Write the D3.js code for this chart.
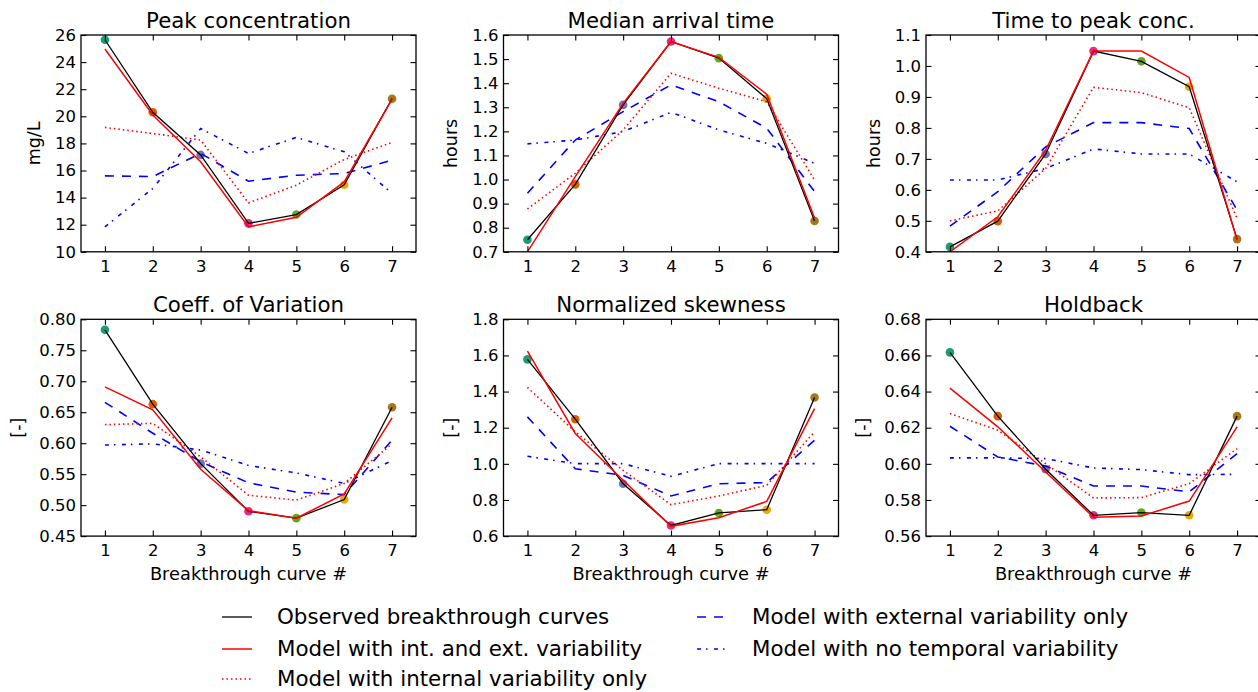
<!DOCTYPE html>
<html>
<head>
<meta charset="utf-8">
<script src="https://cdn.jsdelivr.net/npm/d3@7"></script>
<style>
  body { margin: 0; background: #fff; }
  svg { font-family: "DejaVu Sans", sans-serif; }
</style>
</head>
<body>
<svg id="chart" width="1258" height="692"></svg>
<script>
// breakthrough curve numbers
const curves = [1, 2, 3, 4, 5, 6, 7]
const markerColors = ["#1b9e77", "#d95f02", "#7570b3", "#e7298a", "#66a61e", "#e6ab02", "#a6761d"]

// Peak concentration (mg/L)
const peakObs  = [25.65, 20.3, 17.15, 12.1, 12.75, 14.95, 21.3]
const peakFull = [24.97, 20.1, 16.64, 11.84, 12.55, 15.16, 21.27]
const peakInt  = [19.18, 18.73, 18.25, 13.61, 14.92, 16.81, 18.07]
const peakExt  = [15.6, 15.55, 17.26, 15.21, 15.65, 15.78, 16.76]
const peakNone = [11.84, 14.67, 19.1, 17.26, 18.44, 17.38, 14.3]
const peakTicks = [10, 12, 14, 16, 18, 20, 22, 24, 26]

// Median arrival time (hours)
const medObs  = [0.75, 0.98, 1.31, 1.573, 1.504, 1.336, 0.828]
const medFull = [0.70, 1.012, 1.316, 1.572, 1.507, 1.354, 0.84]
const medInt  = [0.878, 1.026, 1.206, 1.441, 1.379, 1.323, 0.998]
const medExt  = [0.943, 1.164, 1.282, 1.393, 1.323, 1.213, 0.95]
const medNone = [1.148, 1.164, 1.199, 1.279, 1.206, 1.15, 1.067]
const medTicks = [0.7, 0.8, 0.9, 1.0, 1.1, 1.2, 1.3, 1.4, 1.5, 1.6]

// Time to peak concentration (hours)
const tpObs  = [0.416, 0.499, 0.716, 1.048, 1.015, 0.933, 0.441]
const tpFull = [0.40, 0.513, 0.728, 1.048, 1.048, 0.963, 0.438]
const tpInt  = [0.50, 0.532, 0.669, 0.931, 0.914, 0.865, 0.508]
const tpExt  = [0.483, 0.594, 0.739, 0.817, 0.817, 0.798, 0.535]
const tpNone = [0.632, 0.632, 0.669, 0.732, 0.716, 0.716, 0.626]
const tpTicks = [0.4, 0.5, 0.6, 0.7, 0.8, 0.9, 1.0, 1.1]

// Coefficient of variation
const cvObs  = [0.783, 0.663, 0.567, 0.490, 0.479, 0.509, 0.658]
const cvFull = [0.691, 0.654, 0.558, 0.491, 0.479, 0.518, 0.641]
const cvInt  = [0.630, 0.632, 0.578, 0.516, 0.508, 0.535, 0.599]
const cvExt  = [0.666, 0.616, 0.570, 0.536, 0.521, 0.517, 0.605]
const cvNone = [0.597, 0.599, 0.589, 0.564, 0.552, 0.535, 0.572]
const cvTicks = [0.45, 0.50, 0.55, 0.60, 0.65, 0.70, 0.75, 0.80]

// Normalized skewness
const skObs  = [1.578, 1.247, 0.890, 0.659, 0.728, 0.746, 1.367]
const skFull = [1.624, 1.168, 0.909, 0.654, 0.702, 0.792, 1.306]
const skInt  = [1.423, 1.177, 0.964, 0.774, 0.822, 0.881, 1.177]
const skExt  = [1.26, 0.973, 0.936, 0.822, 0.89, 0.896, 1.131]
const skNone = [1.042, 1.001, 1.001, 0.931, 1.001, 1.001, 1.001]
const skTicks = [0.6, 0.8, 1.0, 1.2, 1.4, 1.6, 1.8]

// Holdback
const hbObs  = [0.6617, 0.6264, 0.597, 0.5715, 0.573, 0.5715, 0.6264]
const hbFull = [0.6419, 0.6205, 0.5955, 0.5705, 0.5711, 0.5794, 0.6205]
const hbInt  = [0.6279, 0.6186, 0.6001, 0.5811, 0.5813, 0.589, 0.6084]
const hbExt  = [0.6208, 0.6038, 0.5988, 0.5877, 0.5877, 0.5845, 0.6057]
const hbNone = [0.6033, 0.6033, 0.6029, 0.5977, 0.5968, 0.594, 0.5942]
const hbTicks = [0.56, 0.58, 0.60, 0.62, 0.64, 0.66, 0.68]

const legendLabels = [
    "Observed breakthrough curves",
    "Model with int. and ext. variability",
    "Model with internal variability only",
    "Model with external variability only",
    "Model with no temporal variability"
]

// line styles: observed, full model, internal, external, none
const styles = [
    {stroke: "#000", width: 1.3, dash: null},
    {stroke: "#ff0000", width: 1.5, dash: null},
    {stroke: "#ff0000", width: 1.6, dash: "1.5,3"},
    {stroke: "#0000ff", width: 1.6, dash: "9,8"},
    {stroke: "#0000ff", width: 1.6, dash: "4,5,1.5,6.5"}
]

const panels = [
    {title: "Peak concentration", ylabel: "mg/L", series: [peakObs, peakFull, peakInt, peakExt, peakNone], ticks: peakTicks, fmt: d3.format("d")},
    {title: "Median arrival time", ylabel: "hours", series: [medObs, medFull, medInt, medExt, medNone], ticks: medTicks, fmt: d3.format(".1f")},
    {title: "Time to peak conc.", ylabel: "hours", series: [tpObs, tpFull, tpInt, tpExt, tpNone], ticks: tpTicks, fmt: d3.format(".1f")},
    {title: "Coeff. of Variation", ylabel: "[-]", series: [cvObs, cvFull, cvInt, cvExt, cvNone], ticks: cvTicks, fmt: d3.format(".2f")},
    {title: "Normalized skewness", ylabel: "[-]", series: [skObs, skFull, skInt, skExt, skNone], ticks: skTicks, fmt: d3.format(".1f")},
    {title: "Holdback", ylabel: "[-]", series: [hbObs, hbFull, hbInt, hbExt, hbNone], ticks: hbTicks, fmt: d3.format(".2f")}
]

const svg = d3.select("#chart")

const colLeft = [81, 503.5, 926]
const rowTop = [35, 319.3]
const pw = 335, ph = 216.8
const tickLen = 5.5

panels.forEach((p, i) => {
    const left = colLeft[i % 3], top = rowTop[Math.floor(i / 3)]
    const g = svg.append("g").attr("transform", `translate(${left},${top})`)

    const x = d3.scaleLinear().domain([0.5, 7.5]).range([0, pw])
    const y = d3.scaleLinear().domain(d3.extent(p.ticks)).range([ph, 0])

    g.append("clipPath").attr("id", "clip" + i)
        .append("rect").attr("width", pw).attr("height", ph)

    const plot = g.append("g").attr("clip-path", `url(#clip${i})`)

    // markers go under the lines
    plot.selectAll("circle")
        .data(p.series[0])
        .join("circle")
        .attr("cx", (d, k) => x(curves[k]))
        .attr("cy", d => y(d))
        .attr("r", 4.3)
        .attr("fill", (d, k) => markerColors[k])

    const line = d3.line().x((d, k) => x(curves[k])).y(d => y(d))

    // draw model lines first, observed and full model on top
    const order = [4, 3, 2, 0, 1]
    order.forEach(s => {
        plot.append("path")
            .attr("d", line(p.series[s]))
            .attr("fill", "none")
            .attr("stroke", styles[s].stroke)
            .attr("stroke-width", styles[s].width)
            .attr("stroke-dasharray", styles[s].dash)
    })

    // axes, ticks inward on all four sides
    const fs = 16.5
    const xb = d3.axisBottom(x).tickValues(curves).tickFormat(d3.format("d"))
        .tickSizeInner(-tickLen).tickSizeOuter(0).tickPadding(8)
    const xt = d3.axisTop(x).tickValues(curves).tickSizeInner(-tickLen).tickSizeOuter(0).tickFormat("")
    const yl = d3.axisLeft(y).tickValues(p.ticks).tickSizeInner(-tickLen).tickSizeOuter(0).tickPadding(5).tickFormat(p.fmt)
    const yr = d3.axisRight(y).tickValues(p.ticks).tickSizeInner(-tickLen).tickSizeOuter(0).tickFormat("")

    const gxb = g.append("g").attr("transform", `translate(0,${ph})`).call(xb)
    g.append("g").call(xt)
    const gyl = g.append("g").call(yl)
    g.append("g").attr("transform", `translate(${pw},0)`).call(yr)

    g.selectAll(".domain").remove()
    g.selectAll(".tick line").attr("stroke", "#000").attr("stroke-width", 1.1)
    g.selectAll(".tick text").attr("font-size", fs).attr("fill", "#000")
        .attr("font-family", "DejaVu Sans")
    gxb.selectAll(".tick text").attr("dy", null).attr("y", 20)

    g.append("rect")
        .attr("width", pw).attr("height", ph)
        .attr("fill", "none").attr("stroke", "#000").attr("stroke-width", 1.3)

    // title
    g.append("text")
        .attr("x", pw / 2).attr("y", -7)
        .attr("text-anchor", "middle")
        .attr("font-size", 21.3)
        .text(p.title)

    // y label, sits left of the widest tick label
    let minX = 0
    gyl.selectAll(".tick text").each(function () {
        const b = this.getBBox()
        minX = Math.min(minX, b.x - 5)
    })
    g.append("text")
        .attr("transform", `translate(${minX - 10},${ph / 2}) rotate(-90)`)
        .attr("text-anchor", "middle")
        .attr("font-size", 17.5)
        .text(p.ylabel)

    if (i >= 3) {
        g.append("text")
            .attr("x", pw / 2).attr("y", ph + 44)
            .attr("text-anchor", "middle")
            .attr("font-size", 17.8)
            .text("Breakthrough curve #")
    }
})

// legend, two columns
const legPos = [
    {x: 222, y: 617}, {x: 222, y: 649}, {x: 222, y: 679},
    {x: 697, y: 617}, {x: 697, y: 649}
]
const leg = svg.append("g")
legendLabels.forEach((lab, s) => {
    const pos = legPos[s]
    leg.append("line")
        .attr("x1", pos.x).attr("x2", pos.x + 30)
        .attr("y1", pos.y).attr("y2", pos.y)
        .attr("stroke", styles[s].stroke)
        .attr("stroke-width", styles[s].width)
        .attr("stroke-dasharray", styles[s].dash)
    leg.append("text")
        .attr("x", pos.x + 55).attr("y", pos.y)
        .attr("dy", "0.35em")
        .attr("font-size", 21.4)
        .text(lab)
})
</script>
</body>
</html>
